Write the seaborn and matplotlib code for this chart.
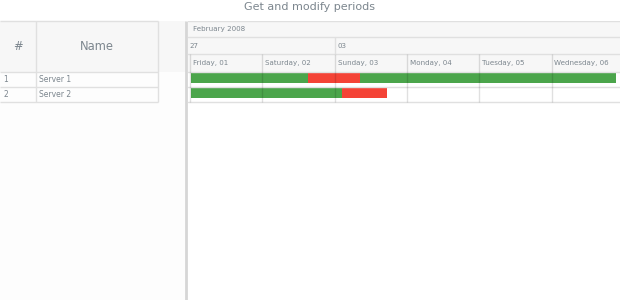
import matplotlib
matplotlib.use("Agg")
import matplotlib.pyplot as plt
import matplotlib.dates as mdates
from matplotlib.patches import Rectangle
import seaborn as sns
import pandas as pd

# ---------------- data ----------------
title = "Get and modify periods"
row_ids = [1, 2]
row_names = ["Server 1", "Server 2"]
period_row = [0, 0, 0, 1, 1]
period_start = ["2008-02-01 00:00", "2008-02-02 15:00", "2008-02-03 08:00",
                "2008-02-01 00:00", "2008-02-03 02:00"]
period_end = ["2008-02-02 15:00", "2008-02-03 08:00", "2008-02-06 21:00",
              "2008-02-03 02:00", "2008-02-03 17:00"]
period_state = ["ok", "down", "ok", "ok", "down"]
state_colors = {"ok": "#4ba54b", "down": "#f44336"}
month_label = "February 2008"
month_start = "2008-02-01"
week_labels = ["27", "03"]
week_starts = ["2008-01-27", "2008-02-03"]
day_starts = pd.date_range("2008-02-01", "2008-02-06", freq="D")

# ---------------- style ----------------
sns.set_theme(style="white")
plt.rcParams['font.family'] = ['DejaVu Sans']
TXT = "#7c868e"
LINE = "#e0e0e0"
GRID = (0, 0, 0, 0.12)
HEAD_BG = "#f7f7f7"

W, H = 620, 300
fig = plt.figure(figsize=(W / 100, H / 100), dpi=100)
fig.patch.set_facecolor("white")


def rect(x0, y0, x1, y1):
    return [x0 / W, 1 - y1 / H, (x1 - x0) / W, (y1 - y0) / H]


# background / data grid (layout in pixel units)
bg = fig.add_axes([0, 0, 1, 1])
bg.set_xlim(0, W)
bg.set_ylim(H, 0)
bg.axis("off")
bg.add_patch(Rectangle((0, 21), 186, 279, color="#fdfdfd", lw=0))
bg.add_patch(Rectangle((0, 21), 186, 50.7, color=HEAD_BG, lw=0))
for yy in [21, 71.7, 86.7, 101.7]:
    bg.hlines(yy, 0, 158, color=LINE, lw=1)
bg.vlines([36, 158], 21, 101.7, color=LINE, lw=1)
bg.vlines(186, 21, 300, color="#d6d6d6", lw=2)
bg.text(18, 46, "#", ha="center", va="center", fontsize=8.3, color=TXT)
bg.text(97, 46, "Name", ha="center", va="center", fontsize=8.3, color=TXT)
for i, (rid, name) in enumerate(zip(row_ids, row_names)):
    yc = 79.2 + 15 * i
    bg.text(3, yc, str(rid), ha="left", va="center", fontsize=5.5, color=TXT)
    bg.text(39, yc, name, ha="left", va="center", fontsize=5.5, color=TXT)
fig.text(0.5, 1 - 7 / H, title, ha="center", va="center", fontsize=8, color=TXT)

# ---------------- timeline ----------------
px_per_day = 72.3
ax_left_px, ax_right_px = 187.5, 620
origin = mdates.date2num(pd.Timestamp("2008-02-01"))
x_left = origin - (190 - ax_left_px) / px_per_day
x_right = origin + (ax_right_px - 190) / px_per_day

ax = fig.add_axes(rect(ax_left_px, 21, ax_right_px, 300))
ax.set_facecolor("none")
ax.set_xlim(x_left, x_right)
ax.set_ylim(279, 0)
ax.axis("off")
pad = 3 / px_per_day

hb = [0, 16.3, 33.3, 50.7]
row_h = 15
ax.axhspan(hb[0], hb[3], color=HEAD_BG, lw=0, zorder=0)

starts = mdates.date2num(pd.to_datetime(period_start))
ends = mdates.date2num(pd.to_datetime(period_end))
for r, s, e, st in zip(period_row, starts, ends, period_state):
    yc = hb[3] + row_h * r + row_h / 2 - 0.9
    ax.barh(yc, e - s, left=s + 1 / px_per_day, height=10,
            color=state_colors[st], lw=0, zorder=1)

for yy in hb + [hb[3] + row_h, hb[3] + 2 * row_h]:
    ax.axhline(yy, color=LINE, lw=1, zorder=2)

day_nums = mdates.date2num(day_starts)
ax.vlines(day_nums, hb[2], hb[3] + 2 * row_h, color=GRID, lw=1, zorder=2)
week_nums = mdates.date2num(pd.to_datetime(week_starts))
ax.vlines(week_nums, hb[1], hb[2], color=LINE, lw=1, zorder=2)

ax.text(mdates.date2num(pd.Timestamp(month_start)) + pad, (hb[0] + hb[1]) / 2,
        month_label, ha="left", va="center", fontsize=5.1, color=TXT)
for wl, wn in zip(week_labels, week_nums):
    xpos = max(wn + pad, x_left + 2 / px_per_day)
    ax.text(xpos, (hb[1] + hb[2]) / 2, wl, ha="left", va="center",
            fontsize=5.1, color=TXT)
for d, dn in zip(day_starts, day_nums):
    ax.text(dn + pad, (hb[2] + hb[3]) / 2, f"{d:%A}, {d:%d}", ha="left",
            va="center", fontsize=5.1, color=TXT, clip_on=True)

fig.savefig("out.png", dpi=100)
